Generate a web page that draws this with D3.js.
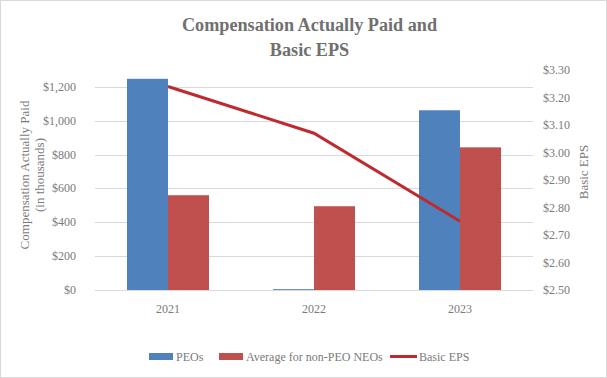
<!DOCTYPE html>
<html>
<head>
<meta charset="utf-8">
<script src="https://d3js.org/d3.v7.min.js"></script>
<style>
  body { margin: 0; background: #fff; }
  svg text { font-family: "Liberation Serif", "DejaVu Serif", serif; fill: #7a7a7a; }
  svg text.title { fill: #707070; font-weight: bold; font-size: 18.2px; }
</style>
</head>
<body>
<script>
var years = ['2021', '2022', '2023'];
var peos = [1248, 5, 1062];
var nonPeo = [560, 495, 843];
var eps = [3.24, 3.07, 2.75];
var leftTicks = [0, 200, 400, 600, 800, 1000, 1200];
var rightTicks = [2.5, 2.6, 2.7, 2.8, 2.9, 3.0, 3.1, 3.2, 3.3];
var seriesNames = ['PEOs', 'Average for non-PEO NEOs', 'Basic EPS'];

var w = 607, h = 378;
var plot = {left: 95, right: 533, top: 70, bottom: 290};

var svg = d3.select('body').append('svg')
  .attr('width', w)
  .attr('height', h);

// outer border
svg.append('rect')
  .attr('x', 0.5).attr('y', 0.5)
  .attr('width', w - 1).attr('height', h - 1)
  .attr('fill', '#fff')
  .attr('stroke', '#d9d9d9');

// title
svg.append('text')
  .attr('class', 'title')
  .attr('x', w / 2 + 6).attr('y', 31)
  .attr('text-anchor', 'middle')
  .text('Compensation Actually Paid and');
svg.append('text')
  .attr('class', 'title')
  .attr('x', w / 2 + 6).attr('y', 56)
  .attr('text-anchor', 'middle')
  .text('Basic EPS');

var x = d3.scaleBand().domain(years).range([plot.left, plot.right]);
var xs = d3.scaleBand().domain([0, 1]).range([0, x.bandwidth()]).paddingOuter(0.78);
var y = d3.scaleLinear().domain([0, 1300]).range([plot.bottom, plot.top]);
var y2 = d3.scaleLinear().domain([2.5, 3.3]).range([plot.bottom, plot.top]);

// gridlines
svg.selectAll('.grid').data(leftTicks).enter().append('line')
  .attr('x1', plot.left).attr('x2', plot.right)
  .attr('y1', function(d) { return Math.round(y(d)) + 0.5; })
  .attr('y2', function(d) { return Math.round(y(d)) + 0.5; })
  .attr('stroke', '#d9d9d9');

// left axis labels
svg.selectAll('.ly').data(leftTicks).enter().append('text')
  .attr('x', 76)
  .attr('y', function(d) { return y(d) + 4; })
  .attr('text-anchor', 'end')
  .style('font-size', '12px')
  .text(function(d) { return '$' + d3.format(',')(d); });

// right axis labels
svg.selectAll('.ry').data(rightTicks).enter().append('text')
  .attr('x', 543)
  .attr('y', function(d) { return y2(d) + 4; })
  .style('font-size', '12px')
  .text(function(d) { return '$' + d.toFixed(2); });

// x labels
svg.selectAll('.xl').data(years).enter().append('text')
  .attr('x', function(d) { return x(d) + x.bandwidth() / 2; })
  .attr('y', 313)
  .attr('text-anchor', 'middle')
  .style('font-size', '12px')
  .text(function(d) { return d; });

// axis titles
var lt = svg.append('text')
  .attr('transform', 'translate(29,175) rotate(-90)')
  .attr('text-anchor', 'middle')
  .style('font-size', '13px');
lt.append('tspan').attr('x', 0).attr('y', 0).text('Compensation Actually Paid');
lt.append('tspan').attr('x', 0).attr('y', 15).text('(in thousands)');

svg.append('text')
  .attr('transform', 'translate(588,172) rotate(-90)')
  .attr('text-anchor', 'middle')
  .style('font-size', '13px')
  .text('Basic EPS');

// bars
var colors = ['#4f81bd', '#c0504d'];
[peos, nonPeo].forEach(function(series, k) {
  svg.selectAll('.bar' + k).data(series).enter().append('rect')
    .attr('x', function(d, i) { return x(years[i]) + xs(k); })
    .attr('y', function(d) { return y(d); })
    .attr('width', xs.bandwidth())
    .attr('height', function(d) { return y(0) - y(d); })
    .attr('fill', colors[k]);
});

// EPS line
var line = d3.line()
  .x(function(d, i) { return x(years[i]) + x.bandwidth() / 2; })
  .y(function(d) { return y2(d); });
svg.append('path')
  .datum(eps)
  .attr('d', line)
  .attr('fill', 'none')
  .attr('stroke', '#be2a2e')
  .attr('stroke-width', 3);

// legend
var lg = svg.append('g');
lg.append('rect').attr('x', 149).attr('y', 353).attr('width', 24).attr('height', 7).attr('fill', colors[0]);
lg.append('text').attr('x', 176).attr('y', 361).style('font-size', '12px').text(seriesNames[0]);
lg.append('rect').attr('x', 219).attr('y', 353).attr('width', 24).attr('height', 7).attr('fill', colors[1]);
lg.append('text').attr('x', 246).attr('y', 361).style('font-size', '12px').text(seriesNames[1]);
lg.append('line').attr('x1', 390).attr('x2', 417).attr('y1', 356.5).attr('y2', 356.5)
  .attr('stroke', '#be2a2e').attr('stroke-width', 3);
lg.append('text').attr('x', 419).attr('y', 361).style('font-size', '12px').text(seriesNames[2]);
</script>
</body>
</html>
